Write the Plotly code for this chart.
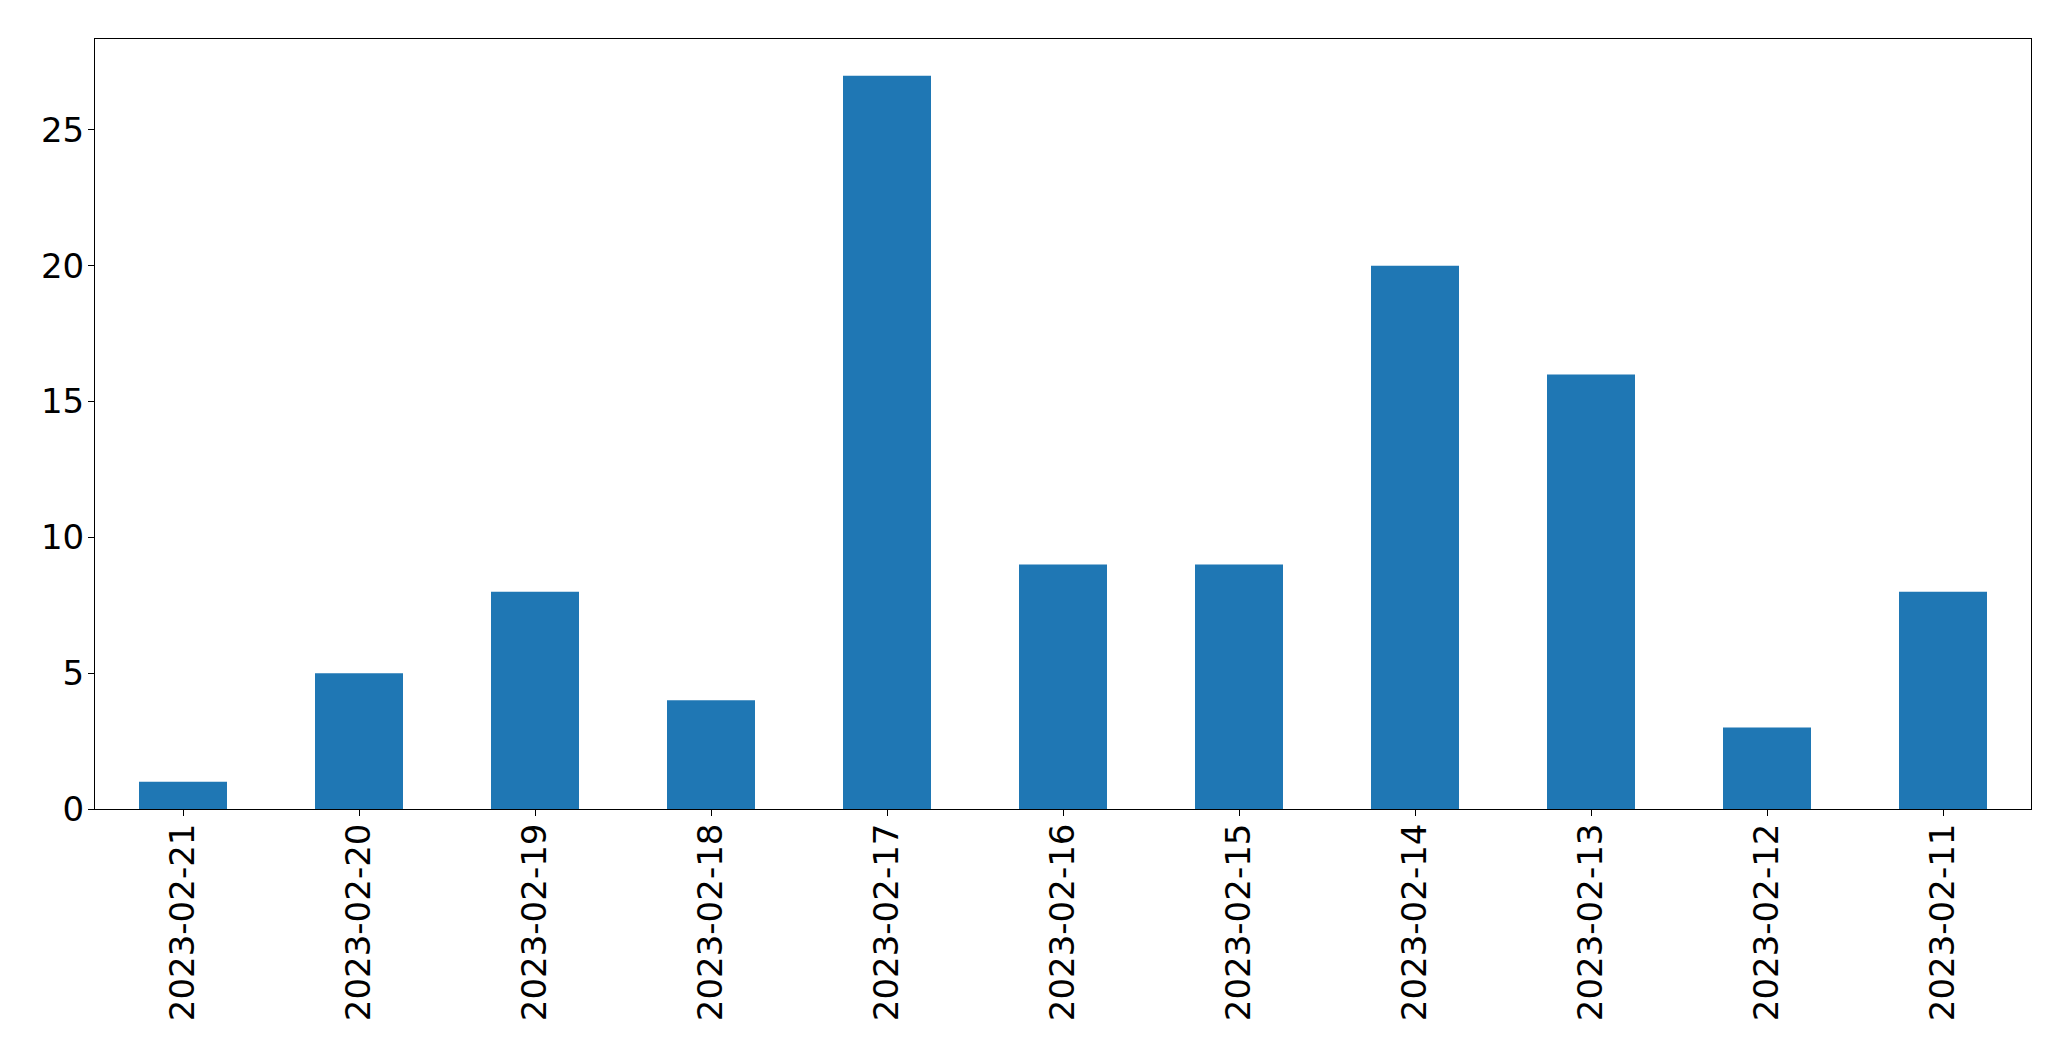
import plotly.graph_objects as go

dates = ["2023-02-21", "2023-02-20", "2023-02-19", "2023-02-18", "2023-02-17", "2023-02-16",
         "2023-02-15", "2023-02-14", "2023-02-13", "2023-02-12", "2023-02-11"]
counts = [1, 5, 8, 4, 27, 9, 9, 20, 16, 3, 8]
y_ticks = [0, 5, 10, 15, 20, 25]

fig = go.Figure(go.Bar(x=dates, y=counts, width=0.5, marker=dict(color="#1f77b4", line=dict(width=0))))

fig.update_layout(
    width=2071, height=1061,
    margin=dict(l=87, r=48, t=31, b=260, autoexpand=False),
    plot_bgcolor="white", paper_bgcolor="white",
    font=dict(family="DejaVu Sans", size=34, color="black"),
    showlegend=False,
)
fig.update_xaxes(
    type="category", range=[-0.5, len(dates) - 0.5],
    tickangle=-90, ticks="outside", ticklen=6, tickwidth=1, tickcolor="black",
    showline=True, linecolor="black", linewidth=1, mirror=True,
    showgrid=False, zeroline=False, ticklabelstandoff=-6, automargin=False,
)
fig.update_yaxes(
    range=[0, max(counts) * 1.05], tickvals=y_ticks,
    ticks="outside", ticklen=6, tickwidth=1, tickcolor="black",
    showline=True, linecolor="black", linewidth=1, mirror=True,
    showgrid=False, zeroline=False, ticklabelstandoff=-3, automargin=False,
)
fig.write_html("out.html")
